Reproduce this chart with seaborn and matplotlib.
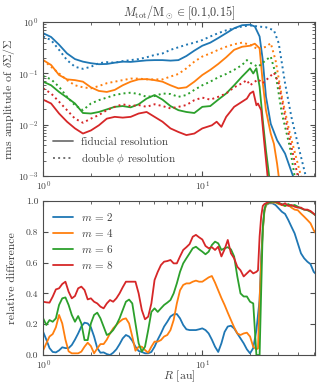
import numpy as np
import pandas as pd
import matplotlib
matplotlib.use("Agg")
import matplotlib.pyplot as plt
import seaborn as sns
from matplotlib.lines import Line2D

##### DATA: TOP PANEL (log10 R, log10 rms amplitude) #####
lr_m2_fid = [0, .05, .1, .15, .2, .25, .3, .35, .4, .45, .5, .55, .6, .65, .7, .75, .8, .85, .9, .95,
             1.0, 1.05, 1.1, 1.15, 1.2, 1.25, 1.3, 1.33, 1.36, 1.38, 1.40, 1.43, 1.47, 1.52, 1.57, 1.6]
la_m2_fid = [-.215, -.29, -.44, -.61, -.72, -.77, -.80, -.82, -.815, -.79, -.77, -.775, -.76, -.745, -.74,
             -.74, -.75, -.74, -.66, -.555, -.46, -.40, -.31, -.215, -.12, -.06, -.05, -.085, -.28, -.74,
             -1.45, -1.98, -2.30, -2.56, -3.0, -3.2]
lr_m2_dbl = [0, .05, .1, .15, .2, .25, .3, .35, .4, .45, .5, .55, .6, .65, .7, .75, .8, .85, .9, .95,
             1.0, 1.05, 1.1, 1.15, 1.2, 1.25, 1.3, 1.35, 1.4, 1.45, 1.48, 1.52, 1.56, 1.6, 1.65, 1.68]
la_m2_dbl = [-.28, -.35, -.54, -.74, -.87, -.91, -.87, -.80, -.78, -.79, -.76, -.74, -.72, -.685, -.64,
             -.61, -.54, -.49, -.44, -.40, -.35, -.28, -.215, -.16, -.12, -.085, -.065, -.085, -.10,
             -.16, -.41, -1.19, -1.85, -2.37, -3.0, -3.2]

lr_m4_fid = [0, .05, .1, .15, .2, .25, .3, .35, .4, .45, .5, .55, .6, .65, .7, .75, .8, .85, .9, .95,
             1.0, 1.05, 1.1, 1.15, 1.2, 1.25, 1.3, 1.33, 1.36, 1.38, 1.40, 1.43, 1.45, 1.47, 1.48, 1.5]
la_m4_fid = [-.74, -.835, -1.03, -1.115, -1.13, -1.16, -1.27, -1.34, -1.36, -1.32, -1.23, -1.16, -1.115,
             -1.11, -1.13, -1.16, -1.23, -1.29, -1.27, -1.16, -1.03, -.93, -.815, -.685, -.54, -.48, -.46,
             -.42, -.51, -1.19, -1.72, -2.17, -2.37, -2.76, -3.0, -3.2]
lr_m4_dbl = [0, .05, .1, .15, .2, .25, .3, .35, .4, .45, .5, .55, .6, .65, .7, .75, .8, .85, .9, .95,
             1.0, 1.05, 1.1, 1.15, 1.2, 1.25, 1.3, 1.35, 1.4, 1.43, 1.46, 1.5, 1.55, 1.6, 1.62, 1.65]
la_m4_dbl = [-.74, -.87, -1.0, -1.13, -1.23, -1.27, -1.29, -1.245, -1.19, -1.16, -1.13, -1.10, -1.10,
             -1.115, -1.115, -1.115, -1.06, -1.01, -.90, -.77, -.67, -.61, -.54, -.48, -.43, -.40, -.44,
             -.53, -.48, -.41, -.74, -1.45, -2.17, -2.76, -3.0, -3.2]

lr_m6_fid = [0, .05, .1, .15, .2, .25, .3, .35, .4, .45, .5, .55, .6, .65, .7, .75, .8, .85, .9, .95,
             1.0, 1.05, 1.1, 1.15, 1.2, 1.25, 1.28, 1.3, 1.32, 1.34, 1.36, 1.38, 1.40, 1.42, 1.44]
la_m6_fid = [-1.16, -1.23, -1.36, -1.47, -1.585, -1.77, -1.78, -1.75, -1.70, -1.65, -1.635, -1.66, -1.60,
             -1.49, -1.42, -1.51, -1.635, -1.715, -1.75, -1.77, -1.65, -1.635, -1.51, -1.39, -1.23, -1.06,
             -.965, -.90, -1.0, -.90, -1.26, -1.91, -2.50, -3.0, -3.2]
lr_m6_dbl = [0, .05, .1, .15, .2, .25, .3, .35, .4, .45, .5, .55, .6, .65, .7, .75, .8, .85, .9, .95,
             1.0, 1.05, 1.1, 1.15, 1.2, 1.25, 1.28, 1.3, 1.35, 1.4, 1.43, 1.46, 1.5, 1.55, 1.58, 1.6]
la_m6_dbl = [-1.05, -1.115, -1.26, -1.455, -1.62, -1.715, -1.585, -1.52, -1.47, -1.42, -1.39, -1.375,
             -1.40, -1.455, -1.44, -1.39, -1.40, -1.455, -1.42, -1.32, -1.23, -1.16, -1.075, -1.01, -.93,
             -.835, -.74, -.79, -.87, -.74, -.67, -1.0, -1.78, -2.43, -3.0, -3.2]

lr_m8_fid = [0, .05, .1, .15, .2, .25, .3, .35, .4, .45, .5, .55, .6, .65, .7, .75, .8, .85, .9, .95,
             1.0, 1.03, 1.06, 1.09, 1.12, 1.15, 1.2, 1.25, 1.28, 1.3, 1.32, 1.34, 1.35, 1.37, 1.39, 1.41,
             1.43]
la_m8_fid = [-1.51, -1.585, -1.78, -1.94, -2.07, -2.17, -2.11, -2.01, -1.88, -1.845, -1.86, -1.845, -1.78,
             -1.75, -1.845, -1.94, -2.07, -2.14, -2.20, -2.17, -2.07, -2.04, -2.01, -1.94, -2.04, -1.845,
             -1.65, -1.55, -1.49, -1.39, -1.35, -1.62, -1.585, -1.715, -2.37, -3.0, -3.2]
lr_m8_dbl = [0, .05, .1, .15, .2, .25, .3, .35, .4, .45, .5, .55, .6, .65, .7, .75, .8, .85, .9, .95,
             1.0, 1.05, 1.1, 1.15, 1.2, 1.25, 1.28, 1.3, 1.35, 1.38, 1.42, 1.45, 1.48, 1.52, 1.56, 1.6, 1.63]
la_m8_dbl = [-1.29, -1.39, -1.55, -1.715, -1.88, -1.96, -1.88, -1.81, -1.715, -1.65, -1.60, -1.635,
             -1.615, -1.65, -1.60, -1.635, -1.68, -1.65, -1.615, -1.52, -1.47, -1.51, -1.455, -1.39, -1.27,
             -1.19, -1.13, -1.23, -1.115, -1.19, -1.075, -.985, -1.19, -1.85, -2.43, -3.0, -3.2]

##### DATA: BOTTOM PANEL (log10 R, relative difference) #####
lr_diff = [0, .02, .04, .06, .08, .10, .12, .14, .16, .18, .20, .22, .24, .26, .28, .30, .32, .34, .36,
           .38, .40, .42, .44, .46, .48, .50, .52, .54, .56, .58, .60, .62, .64, .66, .68, .70, .72, .74,
           .76, .78, .80, .82, .84, .86, .88, .90, .92, .94, .96, .98, 1.00, 1.02, 1.04, 1.06, 1.08,
           1.10, 1.12, 1.14, 1.16, 1.18, 1.20, 1.22, 1.24, 1.26, 1.28, 1.30, 1.32, 1.34, 1.35, 1.36,
           1.37, 1.38, 1.39, 1.40, 1.42, 1.44, 1.46, 1.48, 1.50, 1.52, 1.54, 1.56, 1.58, 1.60, 1.62,
           1.64, 1.66, 1.68, 1.70, 1.72]
diff_m2 = [.15, .10, .045, .02, .017, .03, .05, .045, .045, .065, .10, .14, .185, .21, .205, .18, .12,
           .045, .015, .017, .006, .0, .015, .037, .07, .108, .13, .12, .093, .054, .026, .02, .011, .011,
           .02, .054, .10, .14, .185, .216, .25, .264, .266, .238, .195, .167, .162, .162, .162, .167,
           .173, .162, .14, .10, .054, .02, .076, .15, .185, .19, .173, .14, .108, .076, .037, .011, .045,
           .162, .26, .357, .64, .81, .94, .974, .985, .985, .974, .952, .93, .916, .877, .833, .79, .725,
           .66, .628, .606, .59, .54, .52]
diff_m4 = [.03, .076, .12, .136, .18, .26, .205, .10, .024, .011, .011, .011, .022, .054, .08, .058, .011,
           .043, .071, .071, .10, .14, .173, .195, .216, .232, .238, .205, .12, .028, .054, .054, .032,
           .015, .054, .087, .087, .097, .12, .13, .162, .227, .335, .42, .455, .465, .465, .476, .483,
           .476, .476, .49, .504, .513, .47, .42, .37, .325, .275, .227, .18, .14, .13, .14, .145, .12,
           .054, .037, .043, .357, .60, .81, .93, .974, .99, .99, .99, .98, .974, .968, .974, .957, .944,
           .94, .918, .898, .877, .855, .81, .78]
diff_m6 = [.238, .195, .227, .216, .238, .325, .368, .374, .325, .26, .216, .253, .205, .097, .097, .205,
           .26, .275, .238, .184, .13, .14, .162, .195, .238, .292, .346, .36, .335, .205, .076, .022,
           .054, .162, .28, .303, .28, .303, .325, .34, .357, .40, .465, .54, .595, .628, .66, .693, .703,
           .686, .671, .654, .671, .714, .736, .725, .682, .693, .70, .686, .64, .51, .40, .38, .38, .346,
           .335, .0, .0, .0, .42, .83, .94, .98, .99, .996, .994, .985, .98, .968, .98, .968, .974, .963,
           .952, .944, .94, .93, .916, .90]
diff_m8 = [.346, .342, .34, .379, .426, .433, .461, .476, .411, .368, .383, .433, .444, .422, .361, .368,
           .346, .335, .314, .303, .335, .357, .346, .368, .40, .44, .476, .476, .476, .476, .40, .292,
           .232, .249, .335, .487, .54, .584, .606, .61, .617, .595, .595, .64, .682, .70, .72, .768, .78,
           .764, .75, .708, .693, .70, .682, .703, .64, .686, .747, .66, .628, .573, .55, .51, .53, .55,
           .53, .54, .55, .77, .90, .968, .98, .985, .996, 1.0, .996, .99, .974, .985, .968, .974, .963,
           .957, .957, .944, .944, .935, .918, .90]

m_labels = [r"$m\,=\,2$", r"$m\,=\,4$", r"$m\,=\,6$", r"$m\,=\,8$"]
colors = ["#1f77b4", "#ff7f0e", "#2ca02c", "#d62728"]

top_fid = [(lr_m2_fid, la_m2_fid), (lr_m4_fid, la_m4_fid), (lr_m6_fid, la_m6_fid), (lr_m8_fid, la_m8_fid)]
top_dbl = [(lr_m2_dbl, la_m2_dbl), (lr_m4_dbl, la_m4_dbl), (lr_m6_dbl, la_m6_dbl), (lr_m8_dbl, la_m8_dbl)]
diffs = [diff_m2, diff_m4, diff_m6, diff_m8]

##### STYLE #####
sns.set_style("ticks")
plt.rcParams.update({
    "font.family": "serif",
    "font.serif": ["cmr10", "DejaVu Serif"],
    "mathtext.fontset": "cm",
    "axes.formatter.use_mathtext": True,
    "axes.unicode_minus": False,
    "axes.edgecolor": "0.3",
    "axes.linewidth": 0.8,
    "xtick.color": "0.3",
    "ytick.color": "0.3",
    "xtick.labelcolor": "0.25",
    "ytick.labelcolor": "0.25",
    "xtick.direction": "in",
    "ytick.direction": "in",
    "xtick.top": True,
    "ytick.right": True,
    "xtick.labelsize": 7,
    "ytick.labelsize": 7,
    "xtick.major.pad": 2.5,
    "axes.labelsize": 8.5,
    "axes.labelcolor": "0.25",
})

fig = plt.figure(figsize=(3.22, 3.88), dpi=100)
ax1 = fig.add_axes([0.134, 0.546, 0.844, 0.397])
ax2 = fig.add_axes([0.134, 0.085, 0.844, 0.397])

##### TOP PANEL #####
for (lr, la), c in zip(top_fid, colors):
    sns.lineplot(x=10 ** np.array(lr), y=10 ** np.array(la), ax=ax1, color=c, lw=1.3, sort=False)
for (lr, la), c in zip(top_dbl, colors):
    sns.lineplot(x=10 ** np.array(lr), y=10 ** np.array(la), ax=ax1, color=c, lw=1.4, ls=":", sort=False)

ax1.set_xscale("log")
ax1.set_yscale("log")
ax1.set_xlim(1, 51)
ax1.set_ylim(1e-3, 1)
ax1.set_ylabel(r"rms amplitude of $\delta\Sigma/\Sigma$")
ax1.set_title(r"$M_\mathrm{tot}/\mathrm{M}_\odot \in [0.1{,}0.15]$", fontsize=8.8, color="0.25", pad=3)
ax1.tick_params(which="both", direction="in", top=True, right=True)
handles = [Line2D([], [], color="0.45", lw=1.3, ls="-"), Line2D([], [], color="0.45", lw=1.4, ls=":")]
ax1.legend(handles, ["fiducial resolution", r"double $\phi$ resolution"], loc="lower left",
           frameon=False, fontsize=8, handlelength=1.8, handletextpad=0.7, labelspacing=0.35,
           labelcolor="0.25")

##### BOTTOM PANEL #####
R_diff = 10 ** np.array(lr_diff)
df_diff = pd.DataFrame({"R": np.tile(R_diff, 4),
                        "diff": np.concatenate(diffs),
                        "m": np.repeat(m_labels, len(R_diff))})
sns.lineplot(data=df_diff, x="R", y="diff", hue="m", palette=colors, ax=ax2, lw=1.3, sort=False)
ax2.set_xscale("log")
ax2.set_xlim(1, 51)
ax2.set_ylim(0, 1)
ax2.set_yticks([0, 0.2, 0.4, 0.6, 0.8, 1.0])
ax2.set_yticklabels(["0.0", "0.2", "0.4", "0.6", "0.8", "1.0"])
ax2.set_xlabel(r"$R$ [au]")
ax2.xaxis.set_label_coords(0.5, -0.085)
ax2.set_ylabel("relative difference")
ax2.tick_params(which="both", direction="in", top=True, right=True)
ax2.legend(loc="upper left", frameon=False, fontsize=8, handlelength=1.8, handletextpad=0.7,
           labelspacing=0.35, title=None, labelcolor="0.25")

for ax in (ax1, ax2):
    ax.yaxis.set_label_coords(-0.095, 0.5)

fig.savefig("out.png", dpi=100)
